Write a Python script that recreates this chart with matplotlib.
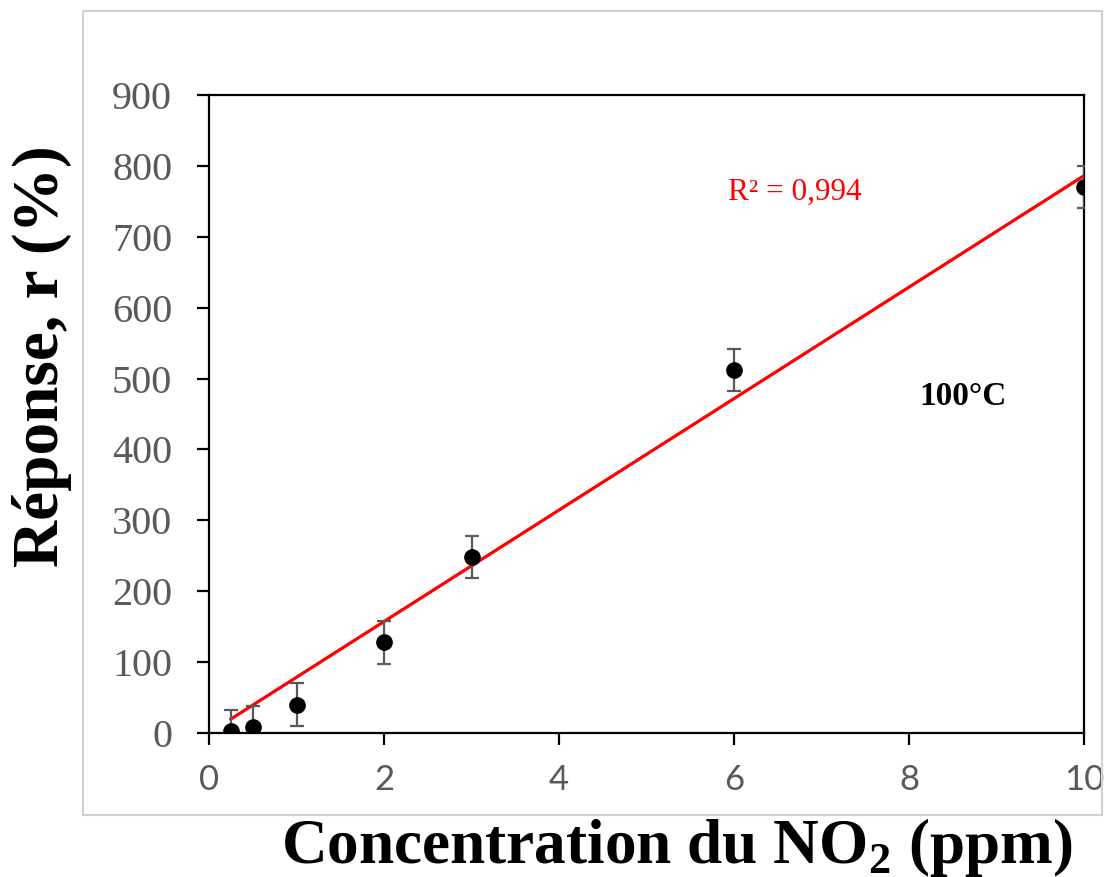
import matplotlib
matplotlib.use('Agg')
import matplotlib.pyplot as plt
from matplotlib.patches import Rectangle
import numpy as np

plt.rcParams['mathtext.fontset'] = 'custom'
plt.rcParams['mathtext.bf'] = 'Liberation Serif:bold'
plt.rcParams['mathtext.rm'] = 'Liberation Serif'

# NO2 concentration (ppm) vs sensor response at 100 °C
conc = [0.25, 0.5, 1, 2, 3, 6, 10]
response = [3, 8, 40, 128, 248, 512, 770]
err = [30, 30, 30, 30, 30, 30, 30]
xticks = [0, 2, 4, 6, 8, 10]
yticks = [0, 100, 200, 300, 400, 500, 600, 700, 800, 900]

W, H = 1106, 877
fig = plt.figure(figsize=(W / 100, H / 100), dpi=100)

# light frame around the chart area
fig.patches.append(Rectangle((83 / W, 1 - 815 / H), (1102 - 83) / W, (815 - 11) / H,
                             transform=fig.transFigure, fill=False,
                             edgecolor='#d0d0d0', linewidth=1.5, zorder=0))

ax = fig.add_axes([209 / W, 1 - 733 / H, (1084 - 209) / W, (733 - 95) / H])

# linear trendline forced through the origin
x = np.array(conc)
y = np.array(response)
slope = np.sum(x * y) / np.sum(x * x)
xs = np.array([x.min(), x.max()])
ax.plot(xs, slope * xs, color='#ff0000', linewidth=2.3, zorder=2)

ax.errorbar(conc, response, yerr=err, fmt='o', color='black', markersize=11,
            ecolor='#595959', elinewidth=1.6, capsize=5, capthick=1.6, zorder=3)

ax.set_xlim(0, 10)
ax.set_ylim(0, 900)
ax.set_xticks(xticks)
ax.set_yticks(yticks)
for s in ax.spines.values():
    s.set_linewidth(1.6)
    s.set_color('black')
ax.tick_params(direction='out', length=8.5, width=1.6, color='black')
ax.tick_params(axis='x', pad=14)
ax.tick_params(axis='y', pad=18)
for lab in ax.get_xticklabels():
    lab.set_fontfamily('Lato')
    lab.set_fontsize(25)
    lab.set_color('#595959')
for lab in ax.get_yticklabels():
    lab.set_fontfamily('Liberation Serif')
    lab.set_fontsize(29)
    lab.set_color('#595959')

ax.text(6.7, 762, 'R² = 0,994', color='#ff0000', fontsize=22.5,
        family='Liberation Serif', ha='center', va='center')
ax.text(8.62, 474, '100°C', color='black', fontsize=24, fontweight='bold',
        family='Liberation Serif', ha='center', va='center')

fig.text(677 / W, 1 - 863 / H, 'Concentration du NO$_\\mathbf{2}$ (ppm)',
         fontsize=45.5, fontweight='bold', family='Liberation Serif',
         ha='center', va='baseline')
fig.text(42 / W, 1 - 356 / H, 'Réponse, r (%)', rotation=90,
         fontsize=47, fontweight='bold', family='Liberation Serif',
         ha='center', va='center')

fig.savefig('out.png', dpi=100)
